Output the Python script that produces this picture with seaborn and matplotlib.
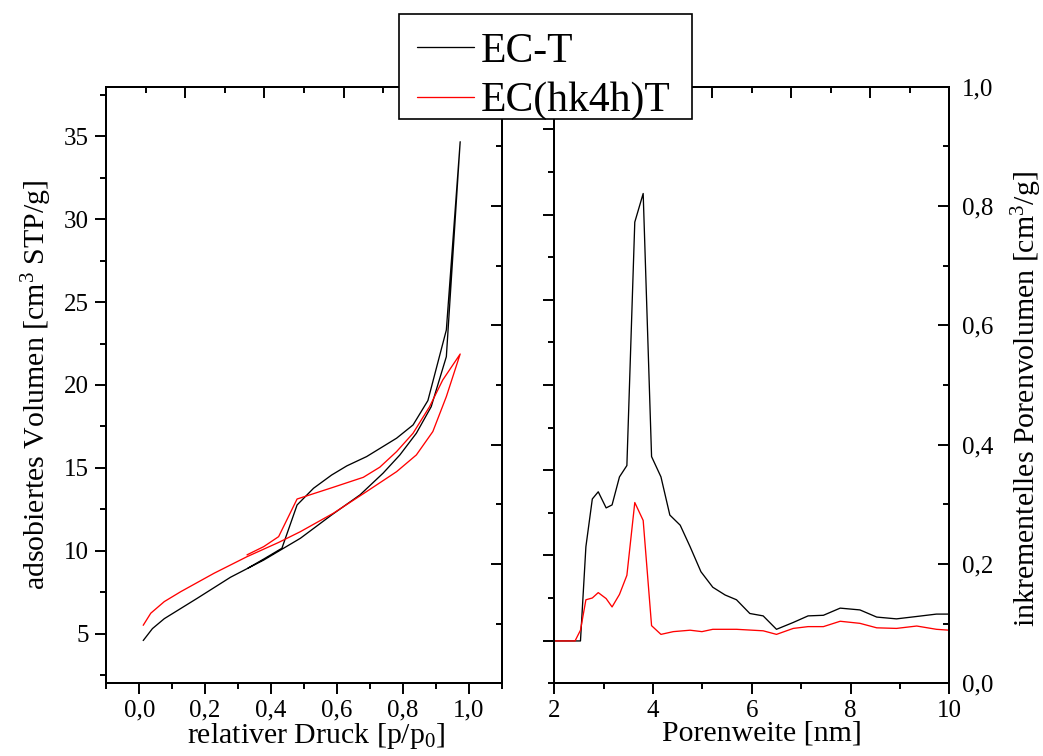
import matplotlib
matplotlib.use("Agg")
import matplotlib.pyplot as plt
from matplotlib.ticker import FixedLocator
from matplotlib.patches import Rectangle
import seaborn as sns
import pandas as pd

# ---------------- data ----------------
# Left panel: N2 isotherms (adsorption branch followed by desorption branch)
ect_p = [0.012, 0.040, 0.076, 0.176, 0.277, 0.378, 0.438, 0.489, 0.584, 0.670, 0.740,
         0.791, 0.841, 0.886, 0.932, 0.974,
         0.932, 0.876, 0.831, 0.781, 0.690, 0.630, 0.584, 0.529, 0.479, 0.433, 0.378, 0.330]
ect_v = [4.58, 5.30, 5.90, 7.13, 8.40, 9.44, 10.15, 10.75, 12.16, 13.37, 14.68,
         15.78, 17.09, 18.69, 21.71, 34.68,
         23.32, 19.06, 17.59, 16.79, 15.68, 15.12, 14.57, 13.77, 12.76, 10.15, 9.50, 8.95]

ech_p = [0.012, 0.035, 0.076, 0.126, 0.227, 0.327, 0.423, 0.489, 0.589, 0.690, 0.781,
         0.841, 0.891, 0.932, 0.974,
         0.921, 0.881, 0.831, 0.781, 0.730, 0.680, 0.589, 0.479, 0.423, 0.378, 0.327]
ech_v = [5.50, 6.23, 6.93, 7.53, 8.64, 9.64, 10.50, 11.15, 12.26, 13.57, 14.77,
         15.78, 17.19, 19.30, 21.87,
         20.30, 18.69, 17.09, 15.98, 15.04, 14.43, 13.83, 13.12, 10.85, 10.25, 9.75]

# Right panel: incremental pore volume vs pore width
ect_w = [2.00, 2.53, 2.64, 2.77, 2.89, 3.05, 3.17, 3.32, 3.47, 3.63, 3.80, 3.97, 4.16,
         4.34, 4.55, 4.75, 4.97, 5.21, 5.46, 5.69, 5.96, 6.23, 6.50, 6.84, 7.14, 7.45,
         7.79, 8.19, 8.53, 8.93, 9.34, 9.74, 10.00]
ect_inc = [0.071, 0.071, 0.229, 0.309, 0.321, 0.294, 0.299, 0.346, 0.365, 0.773, 0.821,
           0.380, 0.346, 0.282, 0.265, 0.229, 0.187, 0.161, 0.148, 0.140, 0.117, 0.113,
           0.0905, 0.102, 0.113, 0.114, 0.126, 0.123, 0.111, 0.108, 0.112, 0.116, 0.116]

ech_w = [2.00, 2.42, 2.53, 2.64, 2.77, 2.89, 3.05, 3.17, 3.32, 3.47, 3.63, 3.80, 3.97,
         4.16, 4.41, 4.75, 4.99, 5.21, 5.69, 6.23, 6.50, 6.84, 7.14, 7.45, 7.79, 8.19,
         8.53, 8.93, 9.34, 9.74, 10.00]
ech_inc = [0.071, 0.071, 0.089, 0.140, 0.143, 0.152, 0.142, 0.128, 0.149, 0.181, 0.303,
           0.273, 0.0966, 0.082, 0.0866, 0.089, 0.0866, 0.0905, 0.0905, 0.088, 0.082,
           0.092, 0.095, 0.095, 0.104, 0.1005, 0.093, 0.092, 0.096, 0.0905, 0.089]

series_names = ["EC-T", "EC(hk4h)T"]
series_colors = ["black", "#ff0000"]

left_xticks = [0.0, 0.2, 0.4, 0.6, 0.8, 1.0]
left_xticklabels = ["0,0", "0,2", "0,4", "0,6", "0,8", "1,0"]
left_yticks = [5, 10, 15, 20, 25, 30, 35]
right_xticks = [2, 4, 6, 8, 10]
right_yticks = [0.0, 0.2, 0.4, 0.6, 0.8, 1.0]
right_yticklabels = ["0,0", "0,2", "0,4", "0,6", "0,8", "1,0"]

# ---------------- style ----------------
sns.set_style("ticks")
plt.rcParams['font.family'] = ['Liberation Serif', 'DejaVu Serif']
plt.rcParams['mathtext.fontset'] = 'custom'
plt.rcParams['mathtext.rm'] = 'Liberation Serif'
plt.rcParams['mathtext.it'] = 'Liberation Serif:italic'
plt.rcParams['mathtext.bf'] = 'Liberation Serif:bold'
plt.rcParams['axes.edgecolor'] = 'black'
plt.rcParams['axes.linewidth'] = 1.4
plt.rcParams['xtick.color'] = 'black'
plt.rcParams['ytick.color'] = 'black'
plt.rcParams['text.color'] = 'black'
plt.rcParams['axes.labelcolor'] = 'black'

TICK_FS = 18
LABEL_FS = 21.5
MAJ_L, MIN_L, TW = 8, 4.5, 1.4
LW = 0.95

fig = plt.figure(figsize=(10.43, 7.56), dpi=100)
ax1 = fig.add_axes([106.3 / 1043, 1 - 683.3 / 756, 395.4 / 1043, 596.6 / 756])
ax2 = fig.add_axes([554.3 / 1043, 1 - 683.3 / 756, 395.0 / 1043, 596.6 / 756])

# lines
iso = [(ect_p, ect_v), (ech_p, ech_v)]
for (px, vy), name, col in zip(iso, series_names, series_colors):
    df = pd.DataFrame({"p": px, "v": vy})
    sns.lineplot(data=df, x="p", y="v", sort=False, estimator=None, color=col,
                 lw=LW, ax=ax1, label=name, legend=False)
psd = [(ect_w, ect_inc), (ech_w, ech_inc)]
for (wx, iy), name, col in zip(psd, series_names, series_colors):
    df = pd.DataFrame({"w": wx, "i": iy})
    sns.lineplot(data=df, x="w", y="i", sort=False, estimator=None, color=col,
                 lw=LW, ax=ax2, legend=False)

# ---- left panel axes ----
ax1.set_xlim(-0.1, 1.1)
ax1.set_ylim(2, 38)
ax1t = ax1.twiny()
ax1t.set_xlim(0, 10)
ax1r = ax1.twinx()
ax1r.set_ylim(0, 1)

ax1.xaxis.set_major_locator(FixedLocator(left_xticks))
ax1.xaxis.set_minor_locator(FixedLocator([-0.1, 0.1, 0.3, 0.5, 0.7, 0.9, 1.1]))
ax1.set_xticklabels(left_xticklabels)
ax1.yaxis.set_major_locator(FixedLocator(left_yticks))
ax1.yaxis.set_minor_locator(FixedLocator([2.5, 7.5, 12.5, 17.5, 22.5, 27.5, 32.5, 37.5]))
ax1.xaxis.set_ticks_position('bottom')
ax1.yaxis.set_ticks_position('left')
ax1.tick_params(which='major', direction='out', length=MAJ_L, width=TW, labelsize=TICK_FS, pad=4.8)
ax1.tick_params(which='minor', direction='out', length=MIN_L, width=TW)
ax1.tick_params(axis='x', which='major', pad=3.8)

ax1t.xaxis.set_ticks_position('top')
ax1t.xaxis.set_major_locator(FixedLocator([0, 2, 4, 6, 8, 10]))
ax1t.xaxis.set_minor_locator(FixedLocator([1, 3, 5, 7, 9]))
ax1t.tick_params(which='major', direction='in', length=MAJ_L, width=TW, labeltop=False, labelbottom=False)
ax1t.tick_params(which='minor', direction='in', length=MIN_L, width=TW)

ax1r.yaxis.set_ticks_position('right')
ax1r.yaxis.set_major_locator(FixedLocator([0, 0.2, 0.4, 0.6, 0.8, 1.0]))
ax1r.yaxis.set_minor_locator(FixedLocator([0.1, 0.3, 0.5, 0.7, 0.9]))
ax1r.tick_params(which='major', direction='in', length=MAJ_L, width=TW, labelright=False, labelleft=False)
ax1r.tick_params(which='minor', direction='in', length=MIN_L, width=TW)

ax1.set_xlabel(r"relativer Druck [p/p$_0$]", fontsize=LABEL_FS)
ax1.set_ylabel(r"adsobiertes Volumen [cm$^3$ STP/g]", fontsize=LABEL_FS)
ax1.xaxis.set_label_coords((316 - 106.3) / 395.4, -0.063)
ax1.yaxis.set_label_coords(-0.133, 0.5)

# ---- right panel axes ----
ax2.set_xlim(2, 10)
ax2.set_ylim(0, 1)
ax2t = ax2.twiny()
ax2t.set_xlim(0, 10)
ax2l = ax2.twinx()
ax2l.set_ylim(0, 14)

ax2.xaxis.set_major_locator(FixedLocator(right_xticks))
ax2.xaxis.set_minor_locator(FixedLocator([3, 5, 7, 9]))
ax2.yaxis.set_major_locator(FixedLocator(right_yticks))
ax2.set_yticklabels(right_yticklabels)
ax2.yaxis.set_minor_locator(FixedLocator([0.1, 0.3, 0.5, 0.7, 0.9]))
ax2.xaxis.set_ticks_position('bottom')
ax2.yaxis.set_ticks_position('right')
ax2.yaxis.set_label_position('right')
ax2.tick_params(axis='x', which='major', direction='out', length=MAJ_L, width=TW, labelsize=TICK_FS, pad=3.8)
ax2.tick_params(axis='x', which='minor', direction='out', length=MIN_L, width=TW)
ax2.tick_params(axis='y', which='major', direction='in', length=MAJ_L, width=TW, labelsize=TICK_FS,
                pad=9, labelright=True, labelleft=False)
ax2.tick_params(axis='y', which='minor', direction='in', length=MIN_L, width=TW)

ax2t.xaxis.set_ticks_position('top')
ax2t.xaxis.set_major_locator(FixedLocator([0, 2, 4, 6, 8, 10]))
ax2t.xaxis.set_minor_locator(FixedLocator([1, 3, 5, 7, 9]))
ax2t.tick_params(which='major', direction='in', length=MAJ_L, width=TW, labeltop=False, labelbottom=False)
ax2t.tick_params(which='minor', direction='in', length=MIN_L, width=TW)

ax2l.yaxis.set_ticks_position('left')
ax2l.yaxis.set_major_locator(FixedLocator([1, 3, 5, 7, 9, 11, 13]))
ax2l.yaxis.set_minor_locator(FixedLocator([0, 2, 4, 6, 8, 10, 12, 14]))
ax2l.tick_params(which='major', direction='out', length=MAJ_L, width=TW, labelleft=False, labelright=False)
ax2l.tick_params(which='minor', direction='out', length=MIN_L, width=TW)

ax2.set_xlabel("Porenweite [nm]", fontsize=LABEL_FS)
ax2.set_ylabel(r"inkrementelles Porenvolumen [cm$^3$/g]", fontsize=LABEL_FS)
ax2.xaxis.set_label_coords((761.7 - 554.3) / 395.0, -0.063)
ax2.yaxis.set_label_coords((1009 - 554.3) / 395.0, (683.3 - 399) / 596.6)

for a in (ax1, ax2, ax1t, ax1r, ax2t, ax2l):
    for s in a.spines.values():
        s.set_color('black')
        s.set_linewidth(1.4)

# ---- legend (frame drawn as a separate box, entries placed inside) ----
frame = Rectangle((399 / 1043, 1 - 119.3 / 756), (692 - 399) / 1043, (119.3 - 14) / 756,
                  transform=fig.transFigure, facecolor='white', edgecolor='black',
                  lw=1.2, zorder=4)
fig.add_artist(frame)
handles = ax1.get_lines()[:2]
leg = fig.legend(handles, series_names, loc='upper left',
                 bbox_to_anchor=(417 / 1043, 1 - 32.5 / 756), bbox_transform=fig.transFigure,
                 fontsize=30, frameon=False, handlelength=1.37, handletextpad=0.15,
                 labelspacing=0.26, borderpad=0, borderaxespad=0, labelcolor='black')
leg.set_zorder(5)

fig.savefig("out.png", dpi=100)
